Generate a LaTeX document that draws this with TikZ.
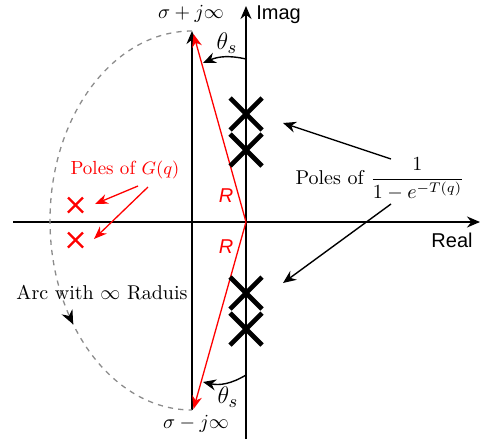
\documentclass[tikz,border=0pt]{standalone}
\usepackage{fontspec}
\newfontfamily\sansf{Liberation Sans}
\usetikzlibrary{arrows.meta,decorations.markings}
\begin{document}
\begin{tikzpicture}[x=0.5pt,y=-0.5pt,
  bigtxt/.style={font=\fontsize{10}{12}\selectfont, inner sep=0pt},
  thtxt/.style={font=\fontsize{12.5}{15}\selectfont, inner sep=0pt},
  redtxt/.style={font=\fontsize{9.5}{11}\selectfont, text=red, inner sep=0pt},
  axis/.style={line width=0.9pt, -{Stealth[length=6.5pt,width=5.5pt]}},
  blkarrow/.style={line width=0.7pt, -{Stealth[length=6.5pt,width=5.5pt]}},
  redarrow/.style={line width=0.65pt, red, -{Stealth[length=6.5pt,width=5pt]}},
  polex/.style={line width=2.3pt},
  redx/.style={line width=1.1pt, red},
  arcline/.style={gray!90, dash pattern=on 2.6pt off 2.6pt, line width=0.65pt}]
\useasboundingbox (0,0) rectangle (480,439);
% coordinates
\coordinate (O) at (246,222);
\coordinate (L) at (13,222);
\coordinate (Rt) at (480,222);
\coordinate (Bt) at (246,439);
\coordinate (Tp) at (246,6);
\coordinate (Vb) at (192,410);
\coordinate (Vt) at (192,31);
% axes
\draw[axis] (L) -- (Rt);
\draw[axis] (Bt) -- (Tp);
\node[inner sep=0pt, font=\fontsize{10}{12}\selectfont\sansf, anchor=west] (imag) at (256,15) {Imag};
\node[inner sep=0pt, font=\fontsize{10}{12}\selectfont\sansf] (real) at (452,240) {Real};
% vertical contour line
\draw[axis, line width=0.8pt] (Vb) -- (Vt);
% dashed arc
\draw[arcline, postaction={decorate, decoration={markings, mark=at position 0.705 with {\arrow[black]{Stealth[length=7pt,width=6pt]}}}}]
  (Vt) arc[start angle=270, end angle=90, x radius=142, y radius=189.5];
% red radius lines
\draw[redarrow] (O) -- (193.5,34);
\draw[redarrow] (O) -- (193.5,409);
\node[inner sep=0pt, text=red, font=\fontsize{10}{12}\selectfont\sansf\itshape] (r1) at (226,196) {R};
\node[inner sep=0pt, text=red, font=\fontsize{10}{12}\selectfont\sansf\itshape] (r2) at (226,247) {R};
% theta arcs
\coordinate (ta1) at (246,59);
\coordinate (tb1) at (203,63);
\draw[blkarrow] (ta1) to[bend right=18] (tb1);
\coordinate (ta2) at (246,375);
\coordinate (tb2) at (203,382);
\draw[blkarrow] (ta2) to[bend left=22] (tb2);
\node[thtxt] (th1) at (227,43) {$\theta_s$};
\node[thtxt] (th2) at (228,397) {$\theta_s$};
% labels sigma
\node[bigtxt] (sp) at (191,14) {$\sigma+j\infty$};
\node[bigtxt] (sm) at (196,424) {$\sigma-j\infty$};
% poles crosses
\foreach \yy in {114,150,293,329}{
  \draw[polex] (230,\yy-16) -- (262,\yy+16);
  \draw[polex] (230,\yy+16) -- (262,\yy-16);
}
% red crosses
\foreach \yy in {205,240}{
  \draw[redx] (68,\yy-7.5) -- (83,\yy+7.5);
  \draw[redx] (68,\yy+7.5) -- (83,\yy-7.5);
}
\node[redtxt] (pg) at (125,170) {Poles of $G(q)$};
\coordinate (ga) at (138,186);
\coordinate (gb) at (95,204);
\coordinate (gc) at (148,187);
\coordinate (gd) at (94,239);
\draw[redarrow] (ga) -- (gb);
\draw[redarrow] (gc) -- (gd);
% poles of fraction
\node[bigtxt] (pf) at (380,179) {Poles of $\displaystyle\frac{1}{1-e^{-T(q)}}$};
\coordinate (fa) at (391,159);
\coordinate (fb) at (283,123);
\coordinate (fc) at (391,204);
\coordinate (fd) at (283,283);
\draw[blkarrow] (fa) -- (fb);
\draw[blkarrow] (fc) -- (fd);
% arc label
\node[bigtxt] (arcl) at (102,293) {Arc with $\infty$ Raduis};
\end{tikzpicture}
\end{document}
